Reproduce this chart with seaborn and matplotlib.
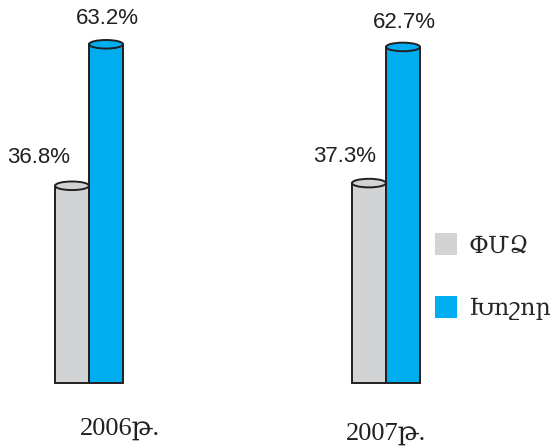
import matplotlib
matplotlib.use("Agg")
import matplotlib.pyplot as plt
from matplotlib.patches import Ellipse, Patch
import pandas as pd
import seaborn as sns

# Share of enterprises by size, per year
years = ["2006թ.", "2007թ."]
series = ["ՓՄՁ", "Խոշոր"]
smb_share = [36.8, 37.3]
large_share = [63.2, 62.7]

colors = ["#D1D3D4", "#00AEEF"]
edge = "#231F20"

df = pd.DataFrame({
    "year": years * 2,
    "group": [series[0]] * len(years) + [series[1]] * len(years),
    "share": smb_share + large_share,
})

sns.set_theme(style="white")
plt.rcParams["font.family"] = ["Liberation Sans", "DejaVu Sans"]

fig = plt.figure(figsize=(5.53, 4.46), dpi=100)
ax = fig.add_axes([0, 0, 1, 1])

sns.barplot(data=df, x="year", y="share", hue="group", hue_order=series,
            palette=colors, width=0.229, saturation=1, edgecolor=edge,
            linewidth=1.4, legend=False, ax=ax)

ax.set_xlim(-0.2997, 1.5623)
ax.set_ylim(-11.75, 71.46)
ax.axis("off")

# label offsets (pixels) relative to the top centre of each bar
label_offsets = [[(-33.5, 23), (-24, 21)], [(1.5, 20), (1.5, 19)]]

for k, container in enumerate(ax.containers):
    for j, bar in enumerate(container.patches):
        cx = bar.get_x() + bar.get_width() / 2
        top = bar.get_height()
        # cylinder cap
        ax.add_patch(Ellipse((cx, top), bar.get_width(), 1.6,
                             facecolor=bar.get_facecolor(), edgecolor=edge,
                             linewidth=1.4, zorder=bar.get_zorder() + 1))
        dx, dy = label_offsets[k][j]
        ax.annotate(f"{top:.1f}%", xy=(cx, top), xytext=(dx, dy),
                    textcoords="offset pixels", ha="center", va="baseline",
                    fontsize=16, color="#231F20")

# year captions under each group
year_offsets = [(31, -52), (0, -57)]
for i, yr in enumerate(years):
    dx, dy = year_offsets[i]
    ax.annotate(yr, xy=(i, 0), xytext=(dx, dy), textcoords="offset pixels",
                ha="center", va="baseline", fontsize=19, color="#231F20",
                family=["Liberation Serif", "DejaVu Serif"])

handles = [Patch(facecolor=c, edgecolor="none") for c in colors]
ax.legend(handles, series, loc="upper left", bbox_to_anchor=(0.7866, 0.4776),
          frameon=False, borderpad=0, borderaxespad=0,
          handlelength=0.93, handleheight=1.05, handletextpad=0.47,
          labelspacing=1.65, prop={"family": ["DejaVu Serif"], "size": 17})

fig.savefig("out.png", dpi=100)
